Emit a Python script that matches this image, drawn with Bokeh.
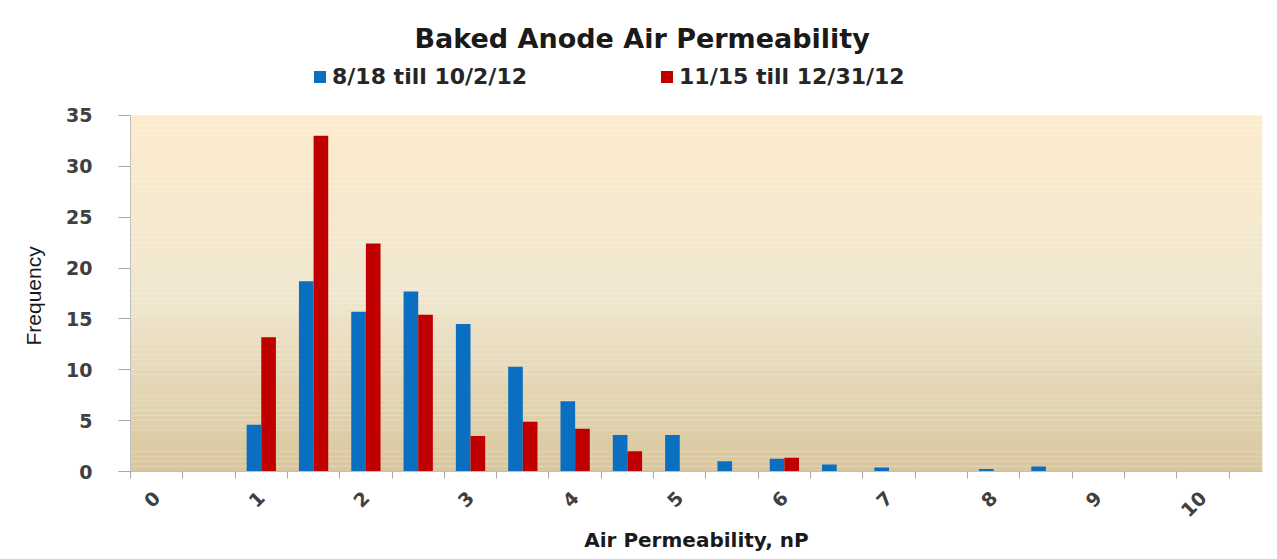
import math
from bokeh.plotting import figure
from bokeh.models import (ColumnDataSource, FixedTicker, Legend, LegendItem,
                          BoxAnnotation, Range1d, Title)
from bokeh.transform import dodge
from bokeh.embed import file_html
from bokeh.resources import INLINE

# ---- data ----
bins = [0, 0.5, 1, 1.5, 2, 2.5, 3, 3.5, 4, 4.5, 5, 5.5, 6, 6.5, 7, 7.5, 8, 8.5, 9, 9.5, 10]
blue_vals = [0, 0, 4.6, 18.7, 15.7, 17.7, 14.5, 10.3, 6.9, 3.6, 3.6, 1.0, 1.25, 0.7, 0.4, 0, 0.25, 0.5, 0, 0, 0]
red_vals = [0, 0, 13.2, 33.0, 22.4, 15.4, 3.5, 4.9, 4.2, 2.0, 0, 0, 1.35, 0, 0, 0, 0, 0, 0, 0, 0]
series_names = ["8/18 till 10/2/12", "11/15 till 12/31/12"]
x_tick_values = [0, 1, 2, 3, 4, 5, 6, 7, 8, 9, 10]
x_tick_labels = ["0", "1", "2", "3", "4", "5", "6", "7", "8", "9", "10"]
y_tick_values = [0, 5, 10, 15, 20, 25, 30, 35]
y_max = 35

title_text = "Baked Anode Air Permeability"
x_title = "Air Permeability, nP"
y_title = "Frequency"

BLUE = "#0A6FC0"
RED = "#C00000"
half = 0.25  # half bin width

src = ColumnDataSource(dict(bin=bins, blue=blue_vals, red=red_vals))

p = figure(frame_width=1132, frame_height=411, output_backend="svg", toolbar_location=None,
           x_range=Range1d(bins[0] - half, 10.57), y_range=Range1d(0, 40.4),
           min_border_left=130, min_border_right=7, min_border_top=60,
           min_border_bottom=10, background_fill_color="white",
           border_fill_color="white")

# gradient plot-area background (only up to the top of the value axis)
stops = [(0.0, (217, 199, 158)), (0.5, (240, 231, 207)), (1.0, (253, 235, 204))]
def col_at(t):
    for (t0, c0), (t1, c1) in zip(stops[:-1], stops[1:]):
        if t0 <= t <= t1:
            f = (t - t0) / (t1 - t0)
            return "#%02x%02x%02x" % tuple(int(round(a + (b - a) * f)) for a, b in zip(c0, c1))
    return "#%02x%02x%02x" % stops[-1][1]
n = 70
for i in range(n):
    b = y_max * i / n
    t = y_max * (i + 1) / n
    p.add_layout(BoxAnnotation(bottom=b, top=t, fill_color=col_at((i + 0.5) / n),
                               fill_alpha=1, line_alpha=0, level="underlay"))

rb = p.vbar(x=dodge("bin", -0.07, range=p.x_range), top="blue", width=0.14, source=src,
            fill_color=BLUE, line_color=None)
rr = p.vbar(x=dodge("bin", 0.07, range=p.x_range), top="red", width=0.14, source=src,
            fill_color=RED, line_color=None)

p.xgrid.visible = False
p.ygrid.visible = False
p.outline_line_color = None

# x axis
boundaries = [b - half for b in bins] + [bins[-1] + half]
xa = p.xaxis[0]
xa.ticker = FixedTicker(ticks=x_tick_values, minor_ticks=boundaries)
xa.major_label_overrides = {v: lab for v, lab in zip(x_tick_values, x_tick_labels)}
xa.major_tick_out = 0
xa.major_tick_in = 0
xa.minor_tick_out = 7
xa.minor_tick_in = 0
xa.minor_tick_line_color = "#A6A6A6"
xa.axis_line_color = "#BFBFBF"
xa.major_label_orientation = math.pi / 4
xa.major_label_text_font = "DejaVu Sans"
xa.major_label_text_font_size = "19px"
xa.major_label_text_font_style = "bold"
xa.major_label_text_color = "#404040"
xa.major_label_standoff = 16
xa.axis_label = x_title
xa.axis_label_text_font = "DejaVu Sans"
xa.axis_label_text_font_size = "20px"
xa.axis_label_text_font_style = "bold"
xa.axis_label_text_color = "#1A1A1A"
xa.axis_label_standoff = 2

# y axis
ya = p.yaxis[0]
ya.ticker = FixedTicker(ticks=y_tick_values)
ya.bounds = (0, y_max)
ya.major_tick_out = 12
ya.major_tick_in = 0
ya.minor_tick_out = 0
ya.minor_tick_in = 0
ya.major_tick_line_color = "#A6A6A6"
ya.axis_line_color = "#BFBFBF"
ya.major_label_text_font = "DejaVu Sans"
ya.major_label_text_font_size = "19px"
ya.major_label_text_font_style = "bold"
ya.major_label_text_color = "#404040"
ya.major_label_standoff = 26

# y axis title, placed along the value axis (0..35)
ytitle = Title(text=y_title, align="left", offset=126, standoff=38,
               text_font="Liberation Sans", text_font_size="21px",
               text_font_style="normal", text_color="#1A1A1A")
p.add_layout(ytitle, "left")

# chart title
p.title.text = title_text
p.title.text_font = "DejaVu Sans"
p.title.text_font_size = "27px"
p.title.text_font_style = "bold"
p.title.text_color = "#1A1A1A"
p.title.align = "left"
p.title.offset = 284
p.title.standoff = 13

legend = Legend(items=[LegendItem(label=series_names[0], renderers=[rb]),
                       LegendItem(label=series_names[1], renderers=[rr])],
                orientation="horizontal", location=(182, 382),
                glyph_width=15, glyph_height=15, label_standoff=5, spacing=132,
                padding=0, margin=0, border_line_color=None, background_fill_alpha=0,
                label_text_font="DejaVu Sans", label_text_font_size="22px",
                label_text_font_style="bold", label_text_color="#262626")
p.add_layout(legend, "center")

open("out.html", "w").write(file_html(p, INLINE))
